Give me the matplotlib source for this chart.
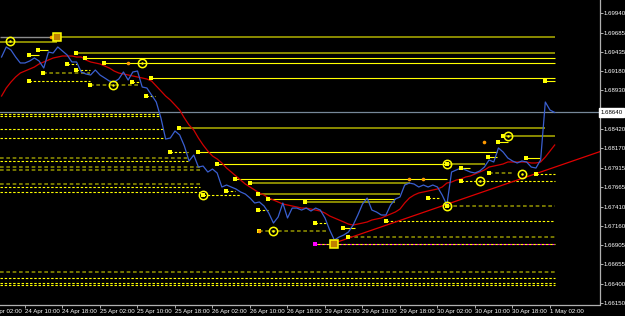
import numpy as np
import matplotlib
matplotlib.use('Agg')
import matplotlib.pyplot as plt
from matplotlib.transforms import blended_transform_factory


# hourly bars, bar 0 = 24 Apr 02:00 (weekend hours are skipped like on the terminal)
bars = np.arange(3, 122)

close = [1.69365, 1.69496, 1.69457, 1.69365, 1.69287, 1.69287, 1.69313, 1.69352, 1.69313, 1.69221,
         1.69430, 1.69417, 1.69496, 1.69443, 1.69391, 1.69300, 1.69300, 1.69169, 1.69143, 1.69130,
         1.69195, 1.69130, 1.69091, 1.69051, 1.69038, 1.69077, 1.69169, 1.69064, 1.69169, 1.69182,
         1.68973, 1.68960, 1.68868, 1.68777, 1.68568, 1.68293, 1.68306, 1.68398, 1.68346, 1.68202,
         1.68006, 1.68084, 1.67927, 1.67940, 1.67862, 1.67901, 1.67849, 1.67666, 1.67692, 1.67666,
         1.67640, 1.67601, 1.67574, 1.67522, 1.67457, 1.67470, 1.67418, 1.67326, 1.67195, 1.67274,
         1.67457, 1.67261, 1.67391, 1.67391, 1.67365, 1.67391, 1.67352, 1.67391, 1.67365, 1.67261,
         1.67104, 1.66973, 1.67012, 1.67039, 1.67078, 1.67169, 1.67300, 1.67444, 1.67522, 1.67365,
         1.67339, 1.67300, 1.67300, 1.67431, 1.67509, 1.67535, 1.67692, 1.67718, 1.67705, 1.67666,
         1.67692, 1.67666, 1.67692, 1.67666, 1.67561, 1.67431, 1.67862, 1.67888, 1.67914, 1.67888,
         1.67862, 1.67849, 1.67875, 1.67927, 1.68019, 1.67993, 1.68176, 1.68123, 1.68045, 1.68006,
         1.67980, 1.68006, 1.67993, 1.67927, 1.67914, 1.68019, 1.68777, 1.68672, 1.68640]

ma = [1.68855, 1.68960, 1.69038, 1.69104, 1.69156, 1.69182, 1.69208, 1.69234, 1.69274, 1.69300,
      1.69326, 1.69352, 1.69365, 1.69378, 1.69378, 1.69378, 1.69365, 1.69365, 1.69326, 1.69300,
      1.69287, 1.69274, 1.69247, 1.69221, 1.69182, 1.69156, 1.69143, 1.69130, 1.69117, 1.69104,
      1.69091, 1.69077, 1.69051, 1.68986, 1.68921, 1.68855, 1.68803, 1.68738, 1.68672, 1.68568,
      1.68476, 1.68411, 1.68306, 1.68215, 1.68136, 1.68071, 1.68032, 1.67980, 1.67914, 1.67862,
      1.67810, 1.67757, 1.67705, 1.67666, 1.67627, 1.67588, 1.67561, 1.67522, 1.67496, 1.67470,
      1.67444, 1.67431, 1.67418, 1.67405, 1.67391, 1.67391, 1.67378, 1.67365, 1.67352, 1.67326,
      1.67287, 1.67261, 1.67235, 1.67209, 1.67182, 1.67169, 1.67182, 1.67195, 1.67209, 1.67235,
      1.67248, 1.67261, 1.67287, 1.67313, 1.67339, 1.67378, 1.67457, 1.67522, 1.67561, 1.67588,
      1.67601, 1.67614, 1.67627, 1.67640, 1.67666, 1.67718, 1.67731, 1.67757, 1.67770, 1.67797,
      1.67810, 1.67836, 1.67862, 1.67888, 1.67927, 1.67940, 1.67953, 1.67967, 1.67993, 1.67993,
      1.67993, 1.67993, 1.67993, 1.67980, 1.67980, 1.67993, 1.68058, 1.68136, 1.68215]

trend_bars = [74, 131]
trend_prices = [1.66934, 1.68136]

last_price = 1.68640

time_ticks = np.arange(0, 121, 8)
time_labels = ['24 Apr 02:00', '24 Apr 10:00', '24 Apr 18:00', '25 Apr 02:00', '25 Apr 10:00',
               '25 Apr 18:00', '26 Apr 02:00', '26 Apr 10:00', '26 Apr 18:00', '29 Apr 02:00',
               '29 Apr 10:00', '29 Apr 18:00', '30 Apr 02:00', '30 Apr 10:00', '30 Apr 18:00',
               '1 May 02:00']
price_ticks = [1.69940, 1.69685, 1.69435, 1.69180, 1.68930, 1.68675, 1.68420, 1.68170,
               1.67915, 1.67665, 1.67410, 1.67160, 1.66905, 1.66655, 1.66400, 1.66150]

# levels: (price, from bar, to bar)
solid_levels = [(1.69352, 20.8, 121.07), (1.69287, 24.85, 121.07), (1.69091, 34.9, 121.07),
                (1.68123, 44.9, 108.7), (1.67967, 48.96, 98.0), (1.67770, 52.8, 98.0),
                (1.67509, 59.8, 86.9), (1.69051, 118.9, 121.07), (1.69391, 8.85, 11.0),
                (1.69457, 10.8, 12.9), (1.67130, 75.8, 78.4), (1.67914, 101.0, 102.9),
                (1.68058, 106.8, 108.7), (1.68254, 108.9, 111.0), (1.68045, 114.9, 117.9)]
faint_levels = [(1.69626, 14.8, 121.07), (1.69417, 18.9, 121.07), (1.68437, 40.85, 118.9),
                (1.67967, 98.0, 106.1), (1.67718, 56.0, 90.1), (1.67470, 67.7, 86.9),
                (1.69561, 2.67, 14.8), (1.68333, 110.0, 121.07), (1.67574, 57.7, 88.0)]
dotted_levels = [(1.68620, 2.67, 36.8), (1.68594, 2.67, 36.8), (1.68424, 2.67, 37.4),
                 (1.68306, 2.67, 37.9), (1.68006, 2.67, 42.8), (1.67666, 2.67, 45.3),
                 (1.67601, 2.67, 45.3), (1.66477, 2.67, 121.07), (1.66411, 2.67, 121.07),
                 (1.66385, 2.67, 121.07), (1.67222, 85.0, 120.6), (1.67744, 101.0, 121.07),
                 (1.67836, 117.0, 121.07), (1.69274, 16.96, 19.1), (1.69195, 18.9, 21.9),
                 (1.69051, 8.85, 21.9), (1.69038, 30.8, 32.5), (1.68855, 33.8, 35.7),
                 (1.68123, 38.9, 42.8), (1.67561, 46.0, 53.9), (1.67614, 50.9, 52.8),
                 (1.67365, 57.7, 59.8), (1.67195, 69.9, 72.4), (1.67522, 94.0, 96.5)]
faint_dotted_levels = [(1.68045, 2.67, 42.8), (1.67927, 2.67, 45.3), (1.67888, 2.67, 45.3),
                       (1.67705, 2.67, 45.3), (1.66555, 2.67, 121.07), (1.67012, 76.9, 121.07),
                       (1.67091, 57.9, 72.4), (1.67418, 98.0, 121.07), (1.67849, 107.0, 112.1),
                       (1.69156, 11.8, 21.9), (1.68999, 21.9, 32.5)]
magenta_levels = [(1.66921, 69.9, 121.07)]
grey_levels = [(1.69626, 2.67, 13.5)]

ring_bars = [4.8, 32.96, 26.8, 46.0, 60.9, 98.0, 98.0, 105.0, 111.0, 114.0]
ring_prices = [1.69574, 1.69287, 1.68999, 1.67561, 1.67091, 1.67967, 1.67418, 1.67744, 1.68333, 1.67836]
box_bars = [14.8, 73.9]
box_prices = [1.69626, 1.66921]
orange_bars = [30.0, 57.9, 89.9, 92.9, 105.9, 13.6]
orange_prices = [1.69287, 1.67091, 1.67770, 1.67770, 1.68254, 1.69626]


YEL = '#ffff00'
OLIVE = '#8a8a00'
DOT = (0, (2.2, 1.6))
FONT = 'Liberation Sans'

fig = plt.figure(figsize=(6.25, 3.16), dpi=100, facecolor='black')
ax = fig.add_axes([0, 0.0348, 0.9592, 0.9652])
ax.set_facecolor('black')


def draw_levels(levels, color, ls, dots=True, lw=0.8):
    p = [l[0] for l in levels]
    a = [l[1] for l in levels]
    b = [l[2] for l in levels]
    ax.hlines(p, a, b, colors=color, linestyles=[ls] * len(p), linewidth=lw, zorder=1)
    if dots:
        s = [(x0, y0) for y0, x0, x1 in levels if x0 > 3]
        if s:
            ax.plot([q[0] for q in s], [q[1] for q in s], 's', color=YEL, ms=2.5, mew=0, zorder=4)


draw_levels(faint_levels, OLIVE, 'solid', lw=1.4)
draw_levels(solid_levels, YEL, 'solid')
draw_levels(dotted_levels, YEL, DOT)
draw_levels(faint_dotted_levels, OLIVE, DOT, lw=1.2)
draw_levels(grey_levels, '#8c8c8c', 'solid', dots=False, lw=1.0)
mp = [m[0] for m in magenta_levels]
ma0 = [m[1] for m in magenta_levels]
mb = [m[2] for m in magenta_levels]
ax.hlines(mp, ma0, mb, colors='#ff00ff', linestyles=[DOT], linewidth=0.8, zorder=1)
ax.hlines(mp, ma0, mb, colors=YEL, linestyles=[(1.6, (2.2, 1.6))], linewidth=0.8, zorder=1)
ax.plot(ma0, mp, 's', color='#ff00ff', ms=2.5, mew=0, zorder=4)

# current price line
ax.axhline(last_price, color='#778899', lw=0.9, zorder=1)

ax.plot(bars, ma, color='#d00000', lw=0.9, zorder=2)
ax.plot(trend_bars, trend_prices, color='#e00000', lw=0.9, zorder=2)
ax.plot(bars, close, color='#3a5fd0', lw=0.9, zorder=3)

ax.plot(orange_bars, orange_prices, 'o', color='#ff9900', ms=2.6, mew=0, zorder=5)
ax.plot(ring_bars, ring_prices, 'o', mfc='none', mec=YEL, ms=6.0, mew=1.1, zorder=6)
ax.plot(ring_bars, ring_prices, 'o', color=YEL, ms=1.8, mew=0, zorder=6)
ax.plot(box_bars, box_prices, 's', mfc='#c08000', mec=YEL, ms=6.2, mew=1.1, zorder=6)

for s in ['top', 'left']:
    ax.spines[s].set_visible(False)
for s in ['right', 'bottom']:
    ax.spines[s].set_color('#b0b0b0')
    ax.spines[s].set_linewidth(0.9)

ax.yaxis.tick_right()
ax.set_yticks(price_ticks)
ax.set_yticklabels(['%.5f' % p for p in price_ticks])
ax.set_xticks(time_ticks)
ax.set_xticklabels(time_labels, ha='left')
ax.tick_params(axis='both', colors='#b0b0b0', labelcolor='white', length=2, width=0.7,
               labelsize=4.4, pad=1)
for t in ax.get_xticklabels() + ax.get_yticklabels():
    t.set_fontfamily(FONT)

# limits after the ticks, otherwise set_xticks widens the view
ax.set_xlim(2.667, 130.56)
ax.set_ylim(1.66124, 1.70110)

# first date label sits left of the view and is cut by the figure edge
ax.text(time_ticks[0], -0.012, time_labels[0], transform=blended_transform_factory(ax.transData, ax.transAxes),
        fontsize=4.4, color='white', family=FONT, ha='left', va='top', clip_on=False)

tr = blended_transform_factory(ax.transAxes, ax.transData)
ax.text(1.002, last_price, '%.5f' % last_price, transform=tr, fontsize=4.4, color='black',
        family=FONT, va='center', ha='left', clip_on=False, zorder=10,
        bbox=dict(boxstyle='square,pad=0.25', fc='white', ec='white'))

fig.savefig('out.png', dpi=100, facecolor='black')
